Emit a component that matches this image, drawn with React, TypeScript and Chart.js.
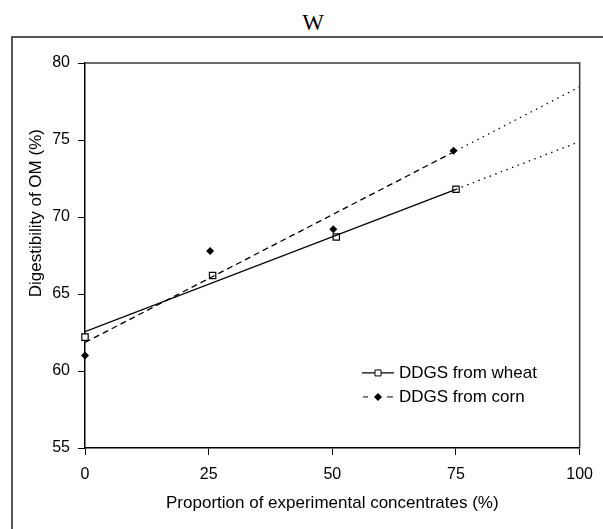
import { useEffect, useRef } from "react";
import { Chart, registerables } from "chart.js";

Chart.register(...registerables);

const wheatX = [0, 25.8, 50.8, 75];
const wheatOM = [62.2, 66.2, 68.7, 71.8];
const cornX = [0, 25.3, 50.2, 74.5];
const cornOM = [61.0, 67.8, 69.2, 74.3];
const fitX = [0, 75, 100];
const wheatFit = [62.55, 71.8, 74.9];
const cornFit = [61.85, 74.3, 78.45];
const xTicks = [0, 25, 50, 75, 100];
const yTicks = [55, 60, 65, 70, 75, 80];
const seriesLabels = ["DDGS from wheat", "DDGS from corn"];
const titleText = "W";
const xTitle = "Proportion of experimental concentrates (%)";
const yTitle = "Digestibility of OM (%)";

const FONT = "'Liberation Sans', Arial, sans-serif";

const pts = (xs: number[], ys: number[]) => xs.map((x, i) => ({ x, y: ys[i] }));

const framePlugin = {
  id: "frameAndLegend",
  afterDraw(chart: any) {
    const { ctx, chartArea: a } = chart;
    const w = a.right - a.left;
    const h = a.bottom - a.top;
    ctx.save();
    // top and right border of plot area
    ctx.strokeStyle = "#3a3a3a";
    ctx.lineWidth = 1.5;
    ctx.beginPath();
    ctx.moveTo(a.left, a.top);
    ctx.lineTo(a.right, a.top);
    ctx.lineTo(a.right, a.bottom);
    ctx.stroke();

    // axis titles
    ctx.fillStyle = "#000";
    ctx.font = `17px ${FONT}`;
    ctx.textAlign = "center";
    ctx.textBaseline = "middle";
    ctx.fillText(xTitle, (a.left + a.right) / 2, a.bottom + 55);
    ctx.save();
    ctx.translate(a.left - 49, a.top + 0.39 * h);
    ctx.rotate(-Math.PI / 2);
    ctx.fillText(yTitle, 0, 0);
    ctx.restore();

    // legend
    const x0 = a.left + 0.56 * w;
    const y0 = a.top + 0.805 * h;
    const rowGap = 24;
    ctx.textAlign = "left";
    ctx.strokeStyle = "#000";
    ctx.lineWidth = 1.2;
    // wheat
    ctx.beginPath();
    ctx.moveTo(x0, y0);
    ctx.lineTo(x0 + 32, y0);
    ctx.stroke();
    ctx.fillStyle = "#fff";
    ctx.beginPath();
    ctx.rect(x0 + 13, y0 - 3, 6, 6);
    ctx.fill();
    ctx.lineWidth = 1;
    ctx.stroke();
    // corn
    const y1 = y0 + rowGap;
    ctx.lineWidth = 1;
    ctx.beginPath();
    ctx.moveTo(x0 + 1, y1);
    ctx.lineTo(x0 + 6, y1);
    ctx.moveTo(x0 + 25, y1);
    ctx.lineTo(x0 + 31, y1);
    ctx.stroke();
    ctx.fillStyle = "#000";
    ctx.beginPath();
    ctx.moveTo(x0 + 16, y1 - 4);
    ctx.lineTo(x0 + 20, y1);
    ctx.lineTo(x0 + 16, y1 + 4);
    ctx.lineTo(x0 + 12, y1);
    ctx.closePath();
    ctx.fill();
    ctx.fillStyle = "#000";
    ctx.font = `17px ${FONT}`;
    ctx.fillText(seriesLabels[0], x0 + 37, y0);
    ctx.fillText(seriesLabels[1], x0 + 37, y1);
    ctx.restore();
  },
};

export default function App() {
  const ref = useRef<HTMLCanvasElement | null>(null);
  useEffect(() => {
    if (!ref.current) return;
    const tickFont = { family: FONT, size: 16 };
    const chart = new Chart(ref.current, {
      type: "scatter",
      data: {
        datasets: [
          {
            label: seriesLabels[0] + " fit",
            data: pts(fitX.slice(0, 2), wheatFit.slice(0, 2)),
            showLine: true,
            borderColor: "#000",
            borderWidth: 1.3,
            pointRadius: 0,
          },
          {
            label: seriesLabels[0] + " ext",
            data: pts(fitX.slice(1), wheatFit.slice(1)),
            showLine: true,
            borderColor: "#000",
            borderWidth: 1.3,
            borderDash: [1.5, 4.5],
            pointRadius: 0,
          },
          {
            label: seriesLabels[1] + " fit",
            data: pts(fitX.slice(0, 2), cornFit.slice(0, 2)),
            showLine: true,
            borderColor: "#000",
            borderWidth: 1.3,
            borderDash: [6, 4],
            pointRadius: 0,
          },
          {
            label: seriesLabels[1] + " ext",
            data: pts(fitX.slice(1), cornFit.slice(1)),
            showLine: true,
            borderColor: "#000",
            borderWidth: 1.3,
            borderDash: [1.5, 4.5],
            pointRadius: 0,
          },
          {
            label: seriesLabels[0],
            data: pts(wheatX, wheatOM),
            showLine: false,
            pointStyle: "rect",
            pointRadius: 4.5,
            pointBackgroundColor: "#fff",
            pointBorderColor: "#000",
            pointBorderWidth: 1.2,
            clip: false,
          } as any,
          {
            label: seriesLabels[1],
            data: pts(cornX, cornOM),
            showLine: false,
            pointStyle: "rectRot",
            pointRadius: 4,
            pointBackgroundColor: "#000",
            pointBorderColor: "#000",
            pointBorderWidth: 0,
            clip: false,
          } as any,
        ],
      },
      options: {
        animation: false,
        responsive: false,
        devicePixelRatio: 1,
        layout: { padding: { top: 63, right: 22, left: 0, bottom: 0 } },
        plugins: { legend: { display: false }, tooltip: { enabled: false } },
        scales: {
          x: {
            type: "linear",
            min: 0,
            max: 100,
            afterBuildTicks: (s: any) => {
              s.ticks = xTicks.map((v) => ({ value: v }));
            },
            afterFit: (s: any) => {
              s.height = 81;
            },
            grid: { drawOnChartArea: false, tickLength: 7, color: "#000", lineWidth: 1 },
            border: { color: "#000", width: 1.5 },
            ticks: { font: tickFont, color: "#000", padding: 10, maxRotation: 0 },
          },
          y: {
            type: "linear",
            min: 55,
            max: 80,
            afterBuildTicks: (s: any) => {
              s.ticks = yTicks.map((v) => ({ value: v }));
            },
            afterFit: (s: any) => {
              s.width = 85;
            },
            grid: { drawOnChartArea: false, tickLength: 7, color: "#000", lineWidth: 1 },
            border: { color: "#000", width: 1.5 },
            ticks: { font: tickFont, color: "#000", padding: 8 },
          },
        },
      },
      plugins: [framePlugin],
    } as any);
    return () => chart.destroy();
  }, []);

  return (
    <div style={{ position: "absolute", left: 0, top: 0, width: 603, height: 529, overflow: "hidden", background: "#fff" }}>
      <div
        style={{
          position: "absolute",
          left: 263,
          top: 11,
          width: 100,
          textAlign: "center",
          font: "23px 'Liberation Serif', 'Times New Roman', serif",
          lineHeight: "23px",
          color: "#000",
        }}
      >
        {titleText}
      </div>
      <div
        style={{
          position: "absolute",
          left: 11,
          top: 36,
          width: 700,
          height: 700,
          borderLeft: "2px solid #555",
          borderTop: "2px solid #555",
        }}
      />
      <canvas
        ref={ref}
        width={603}
        height={529}
        style={{ position: "absolute", left: 0, top: 0, width: 603, height: 529 }}
      />
    </div>
  );
}
